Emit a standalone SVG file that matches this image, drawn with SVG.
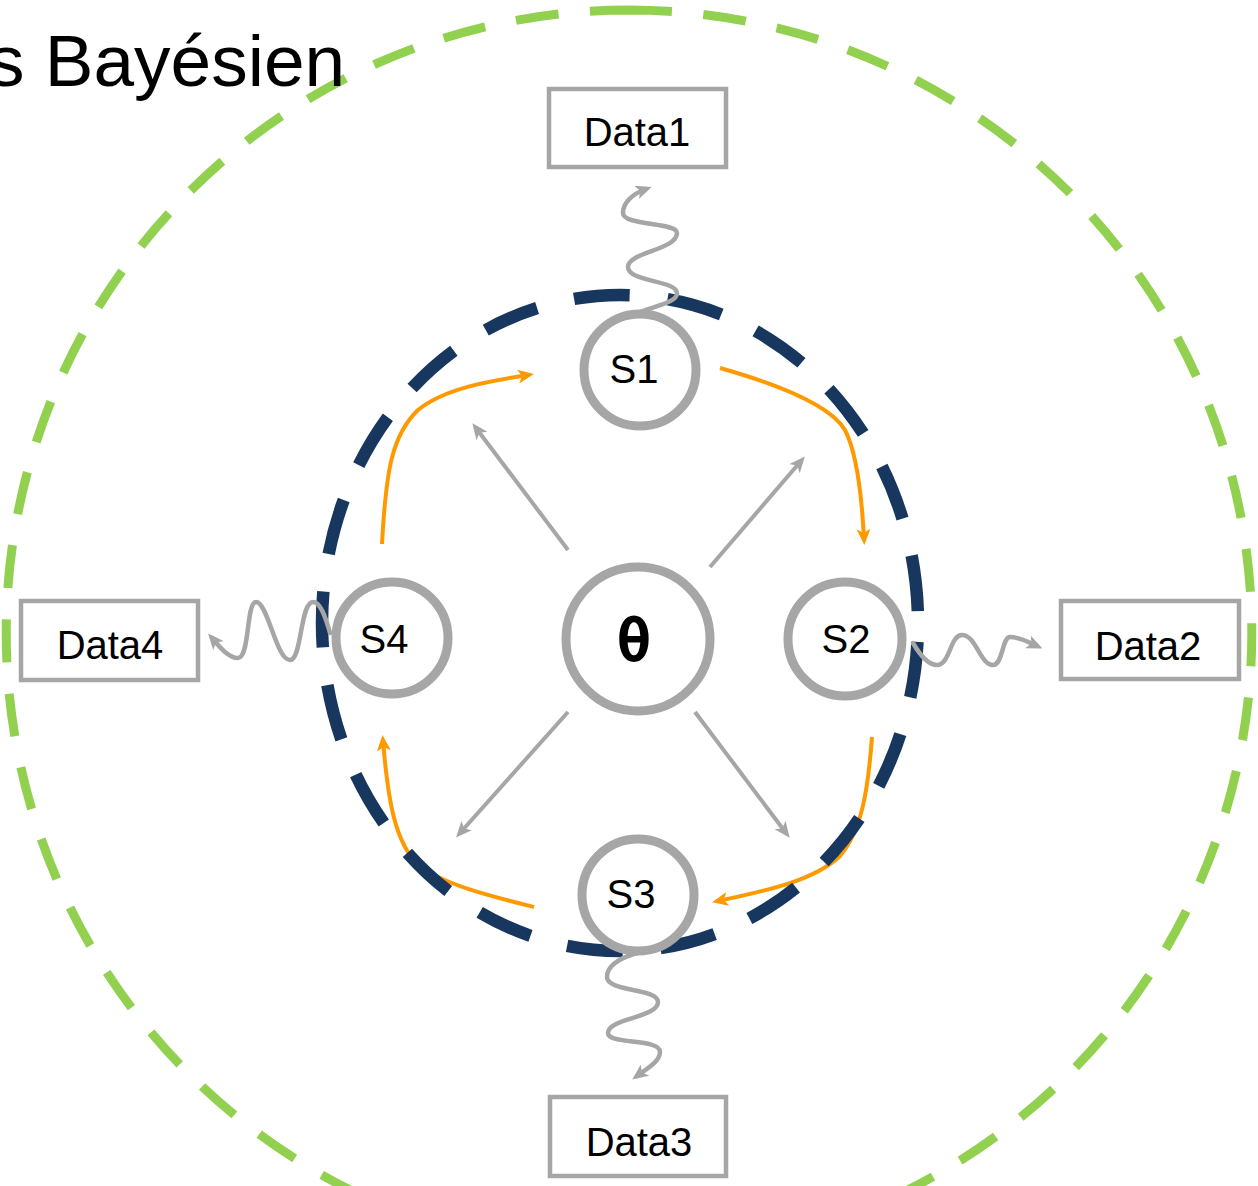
<svg xmlns="http://www.w3.org/2000/svg" width="1258" height="1186" viewBox="0 0 1258 1186">
<style>
.txt{font-family:"Liberation Sans","Noto Sans",Arial,sans-serif;fill:#000;}
.box{fill:#fff;stroke:#A6A6A6;stroke-width:4.5;}
.node{fill:#fff;stroke:#A6A6A6;stroke-width:9;}
.gray{fill:none;stroke:#A6A6A6;stroke-width:4;}
.wave{fill:none;stroke:#A6A6A6;stroke-width:4.5;stroke-linecap:round;}
.orange{fill:none;stroke:#FF9900;stroke-width:4;}
</style>
<defs>
<marker id="ag" viewBox="0 0 16 14" refX="10" refY="7" markerWidth="16" markerHeight="14" markerUnits="userSpaceOnUse" orient="auto"><path d="M0,0 L16,7 L0,14 L4,7 z" fill="#A6A6A6"/></marker>
<marker id="ao" viewBox="0 0 16 14" refX="10" refY="7" markerWidth="16" markerHeight="14" markerUnits="userSpaceOnUse" orient="auto"><path d="M0,0 L16,7 L0,14 L4,7 z" fill="#FF9900"/></marker>
</defs>
<rect width="1258" height="1186" fill="#fff"/>
<g id="outer-boundary">
<path d="M629,10 A623,623 0 0 1 629,1256 A623,623 0 0 1 629,10" fill="none" stroke="#92D050" stroke-width="9" stroke-dasharray="43 31.5"/>
</g>
<g id="title"><text class="txt" x="-12" y="86" font-size="73">s Bayésien</text></g>
<g id="connectors">
<g id="orange-arrows">
<path class="orange" marker-end="url(#ao)" d="M382,544 C386,470 392,435 418,410 C445,388 490,381 528,375"/>
<path class="orange" marker-end="url(#ao)" d="M720,368 C780,385 830,405 845,430 C858,455 862,500 864,539"/>
<path class="orange" marker-end="url(#ao)" d="M872,737 C868,790 862,830 840,856 C815,880 770,890 718,901"/>
<path class="orange" marker-end="url(#ao)" d="M534,907 C490,896 445,885 420,866 C395,845 388,800 383,741"/>
</g>
</g>
<g id="inner-boundary">
<ellipse cx="620" cy="623" rx="298" ry="328" fill="none" stroke="#17375E" stroke-width="12.5" stroke-dasharray="56 38" stroke-dashoffset="-19"/>
</g>
<g id="edges">
<path class="gray" marker-end="url(#ag)" d="M568,550 L476,428"/>
<path class="gray" marker-end="url(#ag)" d="M710,567 L801,461"/>
<path class="gray" marker-end="url(#ag)" d="M568,712 L460,833"/>
<path class="gray" marker-end="url(#ag)" d="M695,712 L786,833"/>
<path class="wave" marker-end="url(#ag)" d="M640,312 C655,306 678,302 677,293 C676,280 628,282 628,267 C628,252 677,250 677,233 C677,222 623,226 623,213 C623,203 632,194 646,189"/>
<path class="wave" marker-end="url(#ag)" d="M913,643 C920,655 928,665 937,665 C950,665 950,635 962,635 C976,635 980,665 993,665 C1003,665 1002,637 1010,637 C1020,637 1028,642 1037,646"/>
<path class="wave" marker-end="url(#ag)" d="M637,953 C620,958 607,965 607,977 C607,992 658,988 658,1002 C658,1018 608,1018 608,1033 C608,1045 660,1038 660,1052 C660,1062 645,1070 637,1076"/>
<path class="wave" marker-end="url(#ag)" d="M330,633 C325,615 320,602 313,602 C300,602 302,660 290,660 C276,660 268,602 256,602 C246,602 250,658 238,658 C228,658 218,645 212,638"/>
</g>
<g id="theta"><circle class="node" cx="638" cy="639" r="72" stroke-width="10"/><text x="634" y="661" text-anchor="middle" font-family="'DejaVu Sans Mono',monospace" font-weight="bold" font-size="58">θ</text></g>
<g id="S1"><circle class="node" cx="640" cy="370" r="56"/><text class="txt" x="634" y="383" text-anchor="middle" font-size="40">S1</text></g>
<g id="S2"><circle class="node" cx="845" cy="639" r="57"/><text class="txt" x="846" y="653" text-anchor="middle" font-size="40">S2</text></g>
<g id="S3"><circle class="node" cx="638" cy="895" r="56"/><text class="txt" x="631" y="908" text-anchor="middle" font-size="40">S3</text></g>
<g id="S4"><circle class="node" cx="392" cy="638" r="56"/><text class="txt" x="384" y="653" text-anchor="middle" font-size="40">S4</text></g>
<g id="Data1"><rect class="box" x="549" y="89" width="177" height="78"/><text class="txt" x="637" y="146" text-anchor="middle" font-size="40">Data1</text></g>
<g id="Data2"><rect class="box" x="1061" y="601" width="178" height="78"/><text class="txt" x="1148" y="660" text-anchor="middle" font-size="40">Data2</text></g>
<g id="Data3"><rect class="box" x="550" y="1097" width="176" height="79"/><text class="txt" x="639" y="1156" text-anchor="middle" font-size="40">Data3</text></g>
<g id="Data4"><rect class="box" x="21" y="601" width="177" height="79"/><text class="txt" x="110" y="659" text-anchor="middle" font-size="40">Data4</text></g>
</svg>
